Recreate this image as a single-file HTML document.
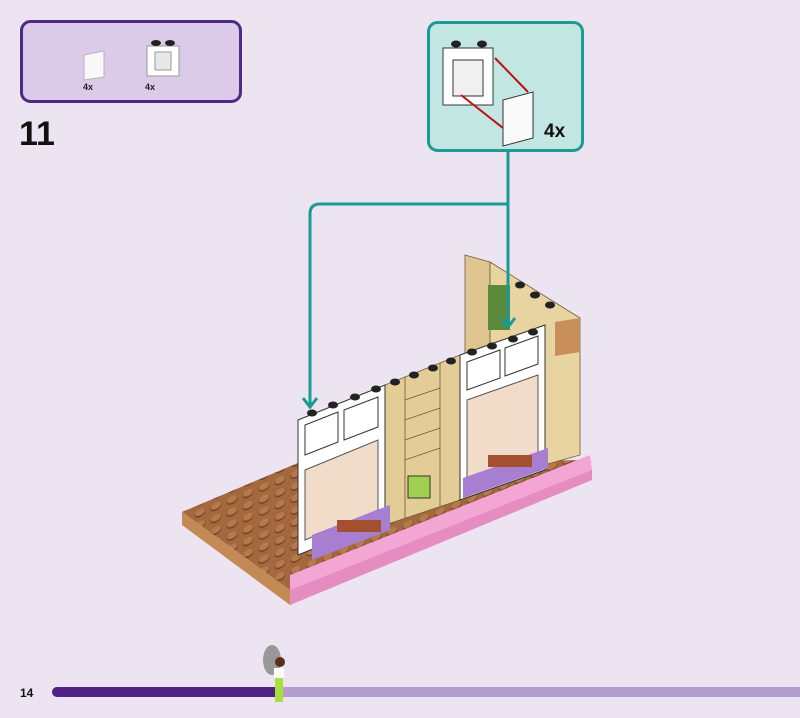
<!DOCTYPE html>
<html><head><meta charset="utf-8"><style>
html,body{margin:0;padding:0;background:#ede4f2;}
body{width:800px;height:718px;position:relative;overflow:hidden;font-family:"Liberation Sans",sans-serif;}
</style></head><body>
<svg width="800" height="718" viewBox="0 0 800 718" style="position:absolute;left:0;top:0">
<defs>
<pattern id="st" width="16" height="12" patternUnits="userSpaceOnUse" patternTransform="skewY(-22)">
<rect width="16" height="12" fill="#a4683e"/>
<ellipse cx="8" cy="6" rx="5.5" ry="4" fill="#7a4526"/>
<ellipse cx="8" cy="5" rx="5" ry="3.3" fill="#b57a4c"/>
</pattern>
</defs>
<!-- parts panel -->
<rect x="21.5" y="21.5" width="219" height="80" rx="9" fill="#dccbe8" stroke="#4e2a84" stroke-width="3"/>
<polygon points="84,55 104,51 104,77 84,80" fill="#f8f8f8" stroke="#aaa" stroke-width="0.8"/>
<text x="83" y="90" font-size="9" font-weight="bold" fill="#222">4x</text>
<rect x="147" y="46" width="32" height="30" fill="#fff" stroke="#999"/>
<rect x="155" y="52" width="16" height="18" fill="#e8e8e8" stroke="#999"/>
<ellipse cx="156" cy="43" rx="5" ry="3" fill="#222"/><ellipse cx="170" cy="43" rx="5" ry="3" fill="#222"/>
<text x="145" y="90" font-size="9" font-weight="bold" fill="#222">4x</text>
<text x="19" y="145" font-size="34" font-weight="bold" fill="#111">11</text>
<!-- callout -->
<rect x="428.5" y="22.5" width="154" height="128" rx="9" fill="#c2e6e2" stroke="#1c9a93" stroke-width="3"/>
<polygon points="443,48 493,48 493,105 443,105" fill="#fff" stroke="#333"/>
<rect x="453" y="60" width="30" height="36" fill="#f0f0f0" stroke="#333"/>
<ellipse cx="456" cy="44" rx="5" ry="3.5" fill="#222"/><ellipse cx="482" cy="44" rx="5" ry="3.5" fill="#222"/>
<polygon points="503,100 533,92 533,138 503,146" fill="#fafafa" stroke="#333"/>
<line x1="495" y1="58" x2="528" y2="92" stroke="#b11" stroke-width="2"/>
<line x1="461" y1="95" x2="503" y2="128" stroke="#b11" stroke-width="2"/>
<text x="544" y="137" font-size="19" font-weight="bold" fill="#111">4x</text>
<!-- base plate -->
<polygon points="182,512 300,462 590,460 590,470 290,590" fill="url(#st)"/>
<polygon points="182,512 290,590 290,605 182,525" fill="#c48a56"/>
<polygon points="290,575 590,455 592,470 290,605" fill="#f3a6d4"/>
<polygon points="290,590 592,470 592,480 290,605" fill="#e58cc0"/>
<!-- back wall -->
<polygon points="465,255 490,262 490,480 465,485" fill="#dfc690" stroke="#6b5a3a" stroke-width="0.8"/>
<polygon points="490,262 580,318 580,455 490,480" fill="#e8d4a0" stroke="#6b5a3a" stroke-width="0.8"/>
<rect x="488" y="285" width="22" height="45" fill="#5a8a3a"/>
<polygon points="555,322 580,318 580,352 555,356" fill="#c88f5a"/>
<!-- middle tan column -->
<polygon points="385,385 460,355 460,500 385,525" fill="#e3cc95" stroke="#6b5a3a" stroke-width="0.8"/>
<g stroke="#6b5a3a" stroke-width="0.8">
<line x1="405" y1="377" x2="405" y2="518"/><line x1="440" y1="363" x2="440" y2="506"/>
<line x1="405" y1="400" x2="440" y2="388"/><line x1="405" y1="420" x2="440" y2="408"/><line x1="405" y1="440" x2="440" y2="428"/><line x1="405" y1="460" x2="440" y2="448"/>
</g>
<g fill="#222"><ellipse cx="395" cy="382" rx="5" ry="3.5"/><ellipse cx="414" cy="375" rx="5" ry="3.5"/><ellipse cx="433" cy="368" rx="5" ry="3.5"/><ellipse cx="451" cy="361" rx="5" ry="3.5"/></g>
<rect x="408" y="476" width="22" height="22" fill="#a0d050" stroke="#333"/>
<!-- right window -->
<polygon points="460,355 545,325 545,470 460,500" fill="#fff" stroke="#333"/>
<polygon points="467,400 538,375 538,455 467,480" fill="#f0dcc8" stroke="#555"/>
<g stroke="#333" fill="none"><polygon points="467,362 500,350 500,378 467,390"/><polygon points="505,348 538,336 538,364 505,376"/></g>
<polygon points="463,478 548,448 548,468 463,498" fill="#a87ed0"/>
<!-- left window -->
<polygon points="298,420 385,385 385,520 298,555" fill="#fff" stroke="#333"/>
<polygon points="305,470 378,440 378,510 305,540" fill="#f0dcc8" stroke="#555"/>
<g stroke="#333" fill="none"><polygon points="305,425 338,412 338,442 305,455"/><polygon points="344,410 378,397 378,427 344,440"/></g>
<polygon points="312,535 390,505 390,530 312,560" fill="#a87ed0"/>
<rect x="337" y="520" width="44" height="12" fill="#a4502e"/>
<rect x="488" y="455" width="44" height="12" fill="#a4502e"/>
<!-- studs -->
<g fill="#222">
<ellipse cx="312" cy="413" rx="5" ry="3.5"/><ellipse cx="333" cy="405" rx="5" ry="3.5"/><ellipse cx="355" cy="397" rx="5" ry="3.5"/><ellipse cx="376" cy="389" rx="5" ry="3.5"/>
<ellipse cx="472" cy="352" rx="5" ry="3.5"/><ellipse cx="492" cy="346" rx="5" ry="3.5"/><ellipse cx="513" cy="339" rx="5" ry="3.5"/><ellipse cx="533" cy="332" rx="5" ry="3.5"/>
<ellipse cx="520" cy="285" rx="5" ry="3.5"/><ellipse cx="535" cy="295" rx="5" ry="3.5"/><ellipse cx="550" cy="305" rx="5" ry="3.5"/>
</g>
<!-- teal connectors -->
<g stroke="#1c9a93" stroke-width="3" fill="none">
<line x1="508" y1="151" x2="508" y2="325"/>
<path d="M508,204 H320 Q310,204 310,214 V405"/>
<path d="M501,318 L508,327 L515,318"/>
<path d="M303,398 L310,407 L317,398"/>
</g>
<!-- progress bar -->
<text x="20" y="697" font-size="12" font-weight="bold" fill="#111">14</text>
<rect x="52" y="687" width="760" height="10" rx="5" fill="#b29fcf"/>
<rect x="52" y="687" width="228" height="10" rx="5" fill="#4e2384"/>
<ellipse cx="272" cy="660" rx="9" ry="15" fill="#999"/>
<circle cx="280" cy="662" r="5" fill="#5a3018"/>
<rect x="274" y="668" width="10" height="10" fill="#fff"/>
<rect x="275" y="678" width="8" height="24" fill="#a8e040"/>
</svg>
</body></html>
